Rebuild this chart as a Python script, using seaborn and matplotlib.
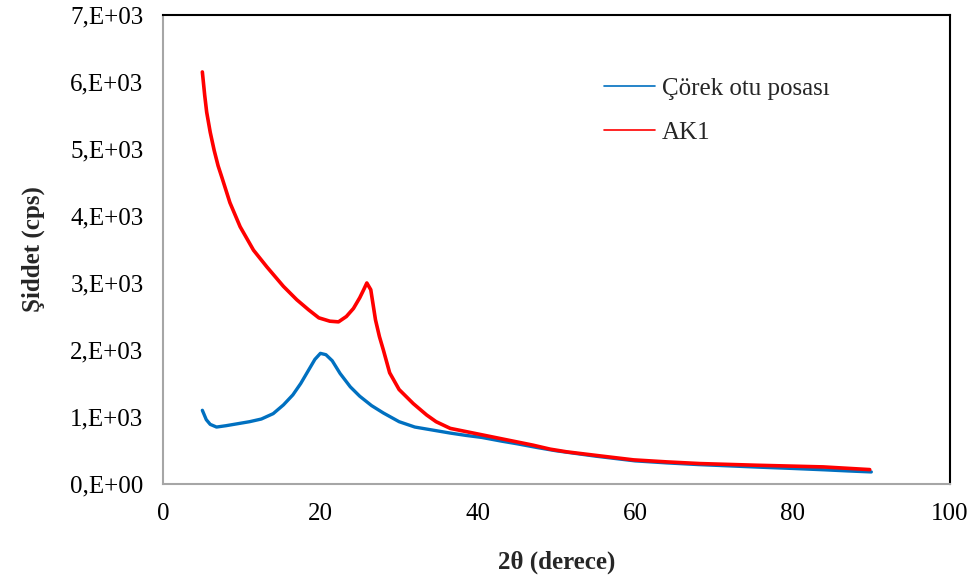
import matplotlib
matplotlib.use("Agg")
import matplotlib.pyplot as plt
from matplotlib.lines import Line2D
import seaborn as sns
import pandas as pd

# ---- data ----
two_theta_corek = [5.0, 5.5, 6.0, 6.8, 8.0, 9.5, 11.0, 12.5, 14.0, 15.3, 16.5, 17.5,
                   18.5, 19.3, 20.0, 20.7, 21.5, 22.5, 23.8, 25.0, 26.5, 28.0, 30.0,
                   32.0, 34.5, 36.5, 38.5, 40.5, 43.0, 45.0, 47.5, 50.0, 52.5, 55.0,
                   57.5, 60.0, 64.0, 68.0, 72.0, 76.0, 80.0, 84.0, 87.0, 90.0]
intensity_corek = [1100, 960, 890, 850, 870, 900, 930, 970, 1050, 1180, 1330, 1500,
                   1700, 1860, 1950, 1930, 1840, 1650, 1450, 1310, 1170, 1060, 930,
                   850, 800, 760, 725, 695, 640, 600, 545, 495, 455, 415,
                   380, 345, 315, 290, 270, 250, 232, 212, 195, 180]

two_theta_ak1 = [5.0, 5.3, 5.55, 6.0, 6.5, 7.0, 7.5, 8.5, 9.8, 11.5, 13.2, 15.3, 17.0,
                 18.5, 19.8, 21.2, 22.3, 23.3, 24.2, 25.0, 25.5, 25.9, 26.4, 27.0,
                 27.5, 28.0, 28.8, 30.0, 31.8, 33.5, 34.7, 36.5, 38.6, 40.7, 42.8,
                 44.9, 47.0, 49.2, 51.3, 55.5, 59.8, 64.0, 68.2, 75.4, 83.9, 89.8]
intensity_ak1 = [6150, 5800, 5550, 5250, 4980, 4750, 4570, 4200, 3840, 3490, 3240, 2950,
                 2750, 2600, 2480, 2430, 2420, 2500, 2620, 2780, 2900, 3000, 2900, 2450,
                 2200, 2000, 1660, 1410, 1200, 1030, 930, 830, 780, 730, 680,
                 630, 580, 520, 480, 420, 360, 330, 305, 280, 255, 215]

series_names = ["Çörek otu posası", "AK1"]
series_colors = ["#0070C0", "#FF0000"]
y_ticks = [0, 1000, 2000, 3000, 4000, 5000, 6000, 7000]
y_tick_labels = ["0,E+00", "1,E+03", "2,E+03", "3,E+03", "4,E+03", "5,E+03", "6,E+03", "7,E+03"]
x_ticks = [0, 20, 40, 60, 80, 100]

df_corek = pd.DataFrame({"x": two_theta_corek, "y": intensity_corek})
df_ak1 = pd.DataFrame({"x": two_theta_ak1, "y": intensity_ak1})

sns.set_style("white")
plt.rcParams["font.family"] = ["Liberation Serif", "DejaVu Serif"]

fig = plt.figure(figsize=(9.75, 5.8), dpi=100)
ax = fig.add_axes([163 / 975, 1 - 484 / 580, (950 - 163) / 975, (484 - 15) / 580])

sns.lineplot(data=df_corek, x="x", y="y", ax=ax, color=series_colors[0],
             linewidth=2.4, sort=False, estimator=None)
sns.lineplot(data=df_ak1, x="x", y="y", ax=ax, color=series_colors[1],
             linewidth=2.6, sort=False, estimator=None)

ax.set_xlim(0, 100)
ax.set_ylim(0, 7000)
ax.set_xticks(x_ticks)
ax.set_xticklabels([str(v) for v in x_ticks])
ax.set_yticks(y_ticks)
ax.set_yticklabels(y_tick_labels)
ax.tick_params(axis="both", length=0, labelsize=18, colors="black")
ax.tick_params(axis="y", pad=14)
ax.tick_params(axis="x", pad=14)

ax.set_xlabel("2θ (derece)", fontsize=18, fontweight="bold", labelpad=18)
ax.set_ylabel("Şiddet (cps)", fontsize=18, fontweight="bold", labelpad=18)

for side in ["left", "bottom"]:
    ax.spines[side].set_color("#A6A6A6")
    ax.spines[side].set_linewidth(1.5)
for side in ["top", "right"]:
    ax.spines[side].set_color("black")
    ax.spines[side].set_linewidth(1.5)
ax.grid(False)

handles = [Line2D([0], [0], color=series_colors[0], lw=1.2),
           Line2D([0], [0], color=series_colors[1], lw=1.2)]
leg = ax.legend(handles, series_names, loc="upper left",
                bbox_to_anchor=(0.532, 0.915), frameon=False, fontsize=18,
                handlelength=2.05, handletextpad=0.25, labelspacing=0.85)

fig.savefig("out.png", dpi=100)
